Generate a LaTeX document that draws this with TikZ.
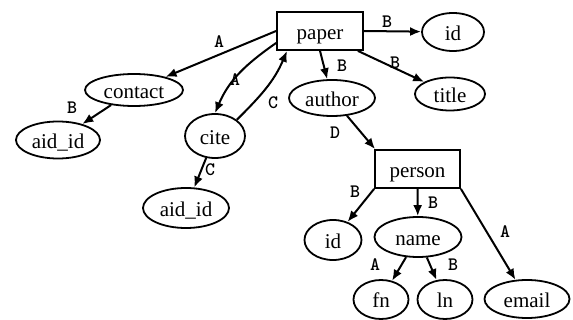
\documentclass[tikz,border=0pt]{standalone}
\usepackage{fontspec}
\setmainfont{Liberation Serif}
\usetikzlibrary{shapes.geometric,arrows.meta}
\begin{document}
\begin{tikzpicture}[x=1pt,y=1pt,
  txt/.style={font=\fontsize{21}{23}\selectfont,text height=17pt,text depth=0pt,inner sep=0pt,draw,line width=1.8pt},
  elt/.style={ellipse,txt},
  box/.style={rectangle,txt,minimum width=86pt,minimum height=38pt},
  arr/.style={line width=2pt,-{Latex[length=11pt,width=9pt]}},
  lbl/.style={font=\ttfamily\bfseries\fontsize{19}{20}\selectfont,inner sep=0pt}]
\useasboundingbox (0,0) rectangle (573,-320);
% nodes
\node[box] (paper) at (320,-31) {paper};
\node[elt,minimum width=62pt,minimum height=38pt] (id1) at (453,-32) {id};
\node[elt,minimum width=70pt,minimum height=33pt] (title) at (450,-94) {title};
\node[elt,minimum width=86pt,minimum height=36pt] (author) at (332,-98) {author};
\node[box,minimum width=85pt] (person) at (417.5,-169) {person};
\node[elt,minimum width=57pt,minimum height=40pt] (id2) at (333,-240) {id};
\node[elt,minimum width=87pt,minimum height=40pt] (name) at (418,-237) {name};
\node[elt,minimum width=55pt,minimum height=39pt] (fn) at (381,-299.5) {fn};
\node[elt,minimum width=55pt,minimum height=39pt] (ln) at (445,-299.5) {ln};
\node[elt,minimum width=85pt,minimum height=38pt] (email) at (527,-299) {email};
\node[elt,minimum width=98pt,minimum height=32pt] (contact) at (134,-90) {contact};
\node[elt,minimum width=84pt,minimum height=37pt] (aid1) at (58,-140) {aid\_id};
\node[elt,minimum width=60pt,minimum height=44pt] (cite) at (215,-136) {cite};
\node[elt,minimum width=86pt,minimum height=40pt] (aid2) at (186,-208) {aid\_id};
% connectors
\draw[arr] (paper.west) -- (contact);
\draw[arr] ([yshift=-12pt]paper.west) to[out=215,in=67] (cite.north);
\draw[arr] (cite.north east) to[out=45,in=-113] ([xshift=-33pt]paper.south);
\draw[arr] (paper.south) -- (author);
\draw[arr] (paper.east) -- (id1);
\draw[arr] ([xshift=-6pt]paper.south east) -- (title);
\draw[arr] (contact) -- (aid1);
\draw[arr] (cite) -- (aid2);
\draw[arr] (author) -- ([xshift=1pt]person.north west);
\draw[arr] (person.south west) -- (id2);
\draw[arr] (person.south) -- (name);
\draw[arr] (person.south east) -- (email);
\draw[arr] (name) -- (fn);
\draw[arr] (name) -- (ln);
% labels
\node[lbl] (l1) at (219,-42) {A};
\node[lbl] (l2) at (235,-80) {A};
\node[lbl] (l3) at (273,-103) {C};
\node[lbl] (l4) at (342,-66) {B};
\node[lbl] (l5) at (387,-22) {B};
\node[lbl] (l6) at (395,-63) {B};
\node[lbl] (l7) at (335,-133) {D};
\node[lbl] (l8) at (355,-192) {B};
\node[lbl] (l9) at (433,-203) {B};
\node[lbl] (l10) at (505,-232) {A};
\node[lbl] (l11) at (375,-265) {A};
\node[lbl] (l12) at (453,-265) {B};
\node[lbl] (l13) at (72,-108) {B};
\node[lbl] (l14) at (210,-170) {C};
\end{tikzpicture}
\end{document}
